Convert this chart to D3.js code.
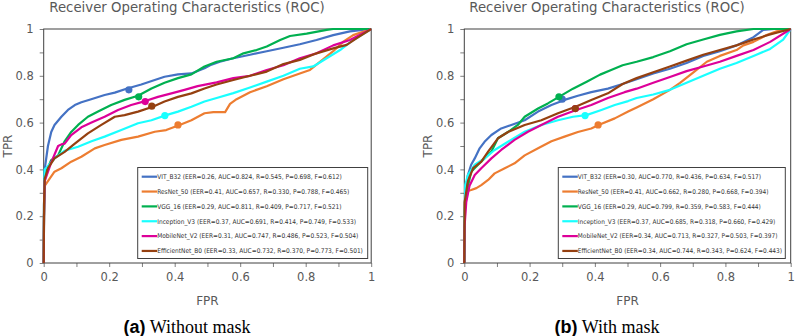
<!DOCTYPE html>
<html>
<head>
<meta charset="utf-8">
<script src="https://cdn.jsdelivr.net/npm/d3@7"></script>
<style>
  body { margin: 0; background: #fff; }
  svg { display: block; }
</style>
</head>
<body>
<svg id="chart" width="795" height="336"></svg>
<script>
// model names + colours (same order in both panels)
var models = ["VIT_B32", "ResNet_50", "VGG_16", "Inception_V3", "MobileNet_V2", "EfficientNet_B0"];
var colors = ["#4472C4", "#ED7D31", "#00B050", "#19FFFF", "#DD0099", "#954010"];

// legend stats, panel (a) without mask
var eerA = [0.26, 0.41, 0.29, 0.37, 0.31, 0.33];
var aucA = [0.824, 0.657, 0.811, 0.691, 0.747, 0.732];
var recA = [0.545, 0.330, 0.409, 0.414, 0.486, 0.370];
var preA = [0.698, 0.788, 0.717, 0.749, 0.523, 0.773];
var f1A  = [0.612, 0.465, 0.521, 0.533, 0.504, 0.501];

// legend stats, panel (b) with mask
var eerB = [0.30, 0.41, 0.29, 0.37, 0.34, 0.34];
var aucB = [0.770, 0.662, 0.799, 0.685, 0.713, 0.744];
var recB = [0.436, 0.280, 0.359, 0.318, 0.327, 0.343];
var preB = [0.634, 0.668, 0.583, 0.660, 0.503, 0.624];
var f1B  = [0.517, 0.394, 0.444, 0.429, 0.397, 0.443];

// ROC curves [FPR, TPR]
var rocA_vit = [[0,0],[0.001,0.25],[0.003,0.40],[0.013,0.50],[0.023,0.56],[0.033,0.59],[0.054,0.625],[0.074,0.654],[0.095,0.675],[0.115,0.687],[0.145,0.70],[0.186,0.718],[0.217,0.728],[0.255,0.746],[0.298,0.763],[0.339,0.782],[0.369,0.796],[0.41,0.806],[0.451,0.81],[0.491,0.832],[0.508,0.845],[0.538,0.86],[0.579,0.875],[0.630,0.89],[0.681,0.905],[0.732,0.92],[0.782,0.935],[0.833,0.953],[0.884,0.974],[0.935,0.99],[1,1]];
var rocA_res = [[0,0],[0.001,0.2],[0.003,0.33],[0.013,0.35],[0.033,0.39],[0.054,0.405],[0.084,0.433],[0.115,0.454],[0.156,0.49],[0.186,0.504],[0.237,0.526],[0.288,0.54],[0.339,0.561],[0.374,0.568],[0.415,0.59],[0.451,0.61],[0.491,0.64],[0.518,0.645],[0.554,0.645],[0.569,0.68],[0.589,0.70],[0.630,0.73],[0.681,0.755],[0.732,0.785],[0.782,0.81],[0.813,0.825],[0.853,0.87],[0.884,0.905],[0.915,0.946],[0.945,0.974],[1,1]];
var rocA_vgg = [[0,0],[0.001,0.2],[0.003,0.35],[0.008,0.39],[0.023,0.44],[0.044,0.46],[0.064,0.52],[0.084,0.56],[0.105,0.59],[0.135,0.625],[0.166,0.647],[0.206,0.675],[0.247,0.697],[0.288,0.715],[0.329,0.746],[0.369,0.77],[0.41,0.79],[0.451,0.806],[0.491,0.84],[0.528,0.86],[0.579,0.875],[0.610,0.896],[0.650,0.91],[0.681,0.925],[0.722,0.953],[0.752,0.97],[0.803,0.98],[0.864,0.996],[0.884,1],[1,1]];
var rocA_inc = [[0,0],[0.001,0.25],[0.003,0.40],[0.013,0.415],[0.033,0.447],[0.064,0.48],[0.105,0.497],[0.146,0.52],[0.186,0.54],[0.237,0.568],[0.288,0.597],[0.329,0.61],[0.374,0.632],[0.41,0.647],[0.451,0.668],[0.491,0.69],[0.528,0.705],[0.579,0.726],[0.630,0.75],[0.681,0.775],[0.732,0.80],[0.782,0.83],[0.823,0.84],[0.864,0.875],[0.905,0.91],[0.945,0.953],[1,1]];
var rocA_mob = [[0,0],[0.001,0.2],[0.003,0.35],[0.023,0.43],[0.044,0.50],[0.054,0.507],[0.064,0.51],[0.084,0.547],[0.115,0.58],[0.146,0.60],[0.186,0.625],[0.227,0.654],[0.267,0.675],[0.31,0.692],[0.349,0.71],[0.39,0.725],[0.43,0.74],[0.47,0.756],[0.528,0.772],[0.579,0.79],[0.630,0.80],[0.681,0.825],[0.732,0.845],[0.782,0.875],[0.833,0.896],[0.884,0.93],[0.935,0.953],[1,1]];
var rocA_eff = [[0,0],[0.001,0.25],[0.003,0.36],[0.013,0.405],[0.033,0.447],[0.064,0.475],[0.095,0.51],[0.135,0.554],[0.176,0.59],[0.217,0.625],[0.247,0.632],[0.288,0.647],[0.333,0.668],[0.369,0.69],[0.41,0.71],[0.451,0.725],[0.491,0.746],[0.528,0.763],[0.579,0.782],[0.630,0.80],[0.681,0.818],[0.732,0.85],[0.782,0.868],[0.833,0.896],[0.884,0.917],[0.925,0.932],[0.955,0.96],[1,1]];

var rocB_vit = [[0,0],[0.001,0.2],[0.003,0.30],[0.011,0.376],[0.021,0.42],[0.032,0.447],[0.047,0.49],[0.062,0.518],[0.083,0.547],[0.113,0.575],[0.144,0.59],[0.185,0.61],[0.226,0.647],[0.267,0.675],[0.307,0.697],[0.348,0.715],[0.389,0.73],[0.44,0.745],[0.485,0.765],[0.528,0.785],[0.579,0.81],[0.630,0.83],[0.681,0.855],[0.732,0.885],[0.783,0.905],[0.834,0.93],[0.886,0.965],[0.916,0.996],[0.95,1],[1,1]];
var rocB_res = [[0,0],[0.001,0.2],[0.003,0.305],[0.021,0.312],[0.037,0.32],[0.052,0.333],[0.073,0.355],[0.093,0.383],[0.124,0.405],[0.154,0.426],[0.185,0.46],[0.226,0.49],[0.267,0.52],[0.307,0.54],[0.348,0.56],[0.389,0.575],[0.415,0.592],[0.461,0.618],[0.502,0.647],[0.528,0.665],[0.579,0.70],[0.630,0.74],[0.661,0.77],[0.702,0.815],[0.743,0.86],[0.783,0.885],[0.834,0.91],[0.855,0.93],[0.886,0.945],[0.926,0.974],[0.957,0.99],[1,1]];
var rocB_vgg = [[0,0],[0.001,0.15],[0.003,0.276],[0.021,0.39],[0.042,0.42],[0.062,0.447],[0.083,0.476],[0.103,0.533],[0.134,0.56],[0.164,0.59],[0.185,0.625],[0.226,0.66],[0.256,0.682],[0.29,0.71],[0.333,0.745],[0.375,0.775],[0.416,0.805],[0.45,0.825],[0.485,0.845],[0.528,0.86],[0.579,0.88],[0.630,0.905],[0.681,0.935],[0.732,0.955],[0.783,0.975],[0.834,0.99],[0.886,1],[1,1]];
var rocB_inc = [[0,0],[0.001,0.2],[0.003,0.333],[0.011,0.376],[0.032,0.42],[0.062,0.447],[0.093,0.483],[0.134,0.518],[0.185,0.561],[0.236,0.59],[0.287,0.61],[0.333,0.625],[0.374,0.632],[0.42,0.654],[0.461,0.675],[0.502,0.692],[0.528,0.705],[0.579,0.72],[0.630,0.74],[0.681,0.77],[0.732,0.80],[0.783,0.83],[0.834,0.855],[0.886,0.885],[0.937,0.915],[0.977,0.955],[1,1]];
var rocB_mob = [[0,0],[0.001,0.16],[0.006,0.26],[0.016,0.33],[0.032,0.376],[0.052,0.405],[0.083,0.447],[0.113,0.483],[0.154,0.526],[0.195,0.561],[0.236,0.59],[0.287,0.625],[0.343,0.654],[0.389,0.675],[0.44,0.705],[0.491,0.73],[0.528,0.745],[0.579,0.77],[0.630,0.795],[0.681,0.82],[0.732,0.84],[0.783,0.86],[0.834,0.885],[0.886,0.91],[0.937,0.945],[1,1]];
var rocB_eff = [[0,0],[0.001,0.26],[0.011,0.35],[0.027,0.405],[0.052,0.433],[0.073,0.476],[0.103,0.533],[0.134,0.56],[0.185,0.59],[0.236,0.61],[0.287,0.64],[0.341,0.668],[0.389,0.697],[0.44,0.725],[0.485,0.765],[0.528,0.79],[0.579,0.815],[0.630,0.84],[0.681,0.865],[0.732,0.89],[0.783,0.91],[0.834,0.93],[0.886,0.955],[0.937,0.977],[1,1]];

var tickVals = [0, 0.1, 0.2, 0.3, 0.4, 0.5, 0.6, 0.7, 0.8, 0.9, 1];

var panels = [
  { left: 43.7, right: 371.2, cx: 187, tag: "(a)", caption: " Without mask",
    curves: [rocA_vit, rocA_res, rocA_vgg, rocA_inc, rocA_mob, rocA_eff],
    eer: eerA, auc: aucA, rec: recA, pre: preA, f1: f1A,
    legX: 137.7, legW: 230, legTextW: 206 },
  { left: 464.3, right: 790.7, cx: 607, tag: "(b)", caption: " With mask",
    curves: [rocB_vit, rocB_res, rocB_vgg, rocB_inc, rocB_mob, rocB_eff],
    eer: eerB, auc: aucB, rec: recB, pre: preB, f1: f1B,
    legX: 558.3, legW: 227, legTextW: 204.5 }
];

var plotTop = 29, plotBottom = 263;
var svg = d3.select("#chart");
var f2 = d3.format(".2f"), f3 = d3.format(".3f");
var tickFmt = function(d) {
  var r = Math.round(d * 10);
  if (r % 2) return "";
  return r === 0 ? "0" : r === 10 ? "1" : d3.format(".1f")(d);
};

panels.forEach(function(p) {
  var x = d3.scaleLinear().domain([0, 1]).range([p.left, p.right]);
  var y = d3.scaleLinear().domain([0, 1]).range([plotBottom, plotTop]);
  var g = svg.append("g");

  g.append("text")
    .attr("x", p.cx).attr("y", 12)
    .attr("text-anchor", "middle")
    .style("font-family", "DejaVu Sans").style("font-size", "13.3px")
    .style("fill", "#595959")
    .text("Receiver Operating Characteristics (ROC)");

  var yAx = g.append("g")
    .attr("transform", "translate(" + p.left + ",0)")
    .call(d3.axisLeft(y).tickValues(tickVals).tickSize(4).tickPadding(6).tickFormat(tickFmt));
  var xAx = g.append("g")
    .attr("transform", "translate(0," + plotBottom + ")")
    .call(d3.axisBottom(x).tickValues(tickVals).tickSize(4).tickPadding(6).tickFormat(tickFmt));
  [yAx, xAx].forEach(function(a) {
    a.select(".domain").remove();
    a.selectAll("line").attr("stroke", "#7f7f7f");
    a.selectAll("text").style("font-family", "DejaVu Sans").style("font-size", "11.5px").style("fill", "#595959");
  });

  g.append("rect")
    .attr("x", p.left).attr("y", plotTop)
    .attr("width", p.right - p.left).attr("height", plotBottom - plotTop)
    .attr("fill", "none").attr("stroke", "#404040").attr("stroke-width", 1);

  g.append("text")
    .attr("x", (p.left + p.right) / 2).attr("y", 305)
    .attr("text-anchor", "middle")
    .style("font-family", "DejaVu Sans").style("font-size", "12px").style("fill", "#595959")
    .text("FPR");
  g.append("text")
    .attr("transform", "translate(" + (p.left - 32) + "," + ((plotTop + plotBottom) / 2) + ") rotate(-90)")
    .attr("text-anchor", "middle")
    .style("font-family", "DejaVu Sans").style("font-size", "12px").style("fill", "#595959")
    .text("TPR");

  var line = d3.line().x(function(d) { return x(d[0]); }).y(function(d) { return y(d[1]); });

  p.curves.forEach(function(c, i) {
    g.append("path").datum(c)
      .attr("d", line)
      .attr("fill", "none")
      .attr("stroke", colors[i])
      .attr("stroke-width", 2.2)
      .attr("stroke-linejoin", "round");
  });

  // EER points
  g.selectAll("circle.eer").data(p.eer).enter().append("circle")
    .attr("class", "eer")
    .attr("cx", function(d) { return x(d); })
    .attr("cy", function(d) { return y(1 - d); })
    .attr("r", 3.6)
    .attr("fill", function(d, i) { return colors[i]; });

  // legend
  var legTop = 167.5, legBot = 258.5, rowH = 14.85;
  g.append("rect")
    .attr("x", p.legX).attr("y", legTop)
    .attr("width", p.legW).attr("height", legBot - legTop)
    .attr("fill", "#fff").attr("stroke", "#404040").attr("stroke-width", 1);

  var rows = g.selectAll("g.leg").data(models).enter().append("g")
    .attr("class", "leg")
    .attr("transform", function(d, i) { return "translate(" + p.legX + "," + (176.7 + i * rowH) + ")"; });
  rows.append("line")
    .attr("x1", 4).attr("x2", 19.5)
    .attr("stroke", function(d, i) { return colors[i]; })
    .attr("stroke-width", 2.2);
  var labels = rows.append("text")
    .attr("x", 19.5).attr("dy", "0.35em")
    .style("font-family", "DejaVu Sans Condensed, DejaVu Sans").style("font-size", "7.6px")
    .style("fill", "#333")
    .text(function(d, i) {
      return d + " (EER=" + f2(p.eer[i]) + ", AUC=" + f3(p.auc[i]) + ", R=" + f3(p.rec[i]) +
        ", P=" + f3(p.pre[i]) + ", F=" + f3(p.f1[i]) + ")";
    });
  // shrink the font so the widest row fits the box
  var wMax = d3.max(labels.nodes(), function(n) { return n.getComputedTextLength(); });
  labels.style("font-size", (7.6 * p.legTextW / wMax) + "px");

  // caption
  var cap = g.append("text")
    .attr("x", p.cx).attr("y", 333)
    .attr("text-anchor", "middle")
    .style("font-size", "18px").style("fill", "#000");
  cap.append("tspan").style("font-family", "Liberation Sans").style("font-weight", "bold").text(p.tag);
  cap.append("tspan").style("font-family", "Liberation Serif").text(p.caption);
});
</script>
</body>
</html>
